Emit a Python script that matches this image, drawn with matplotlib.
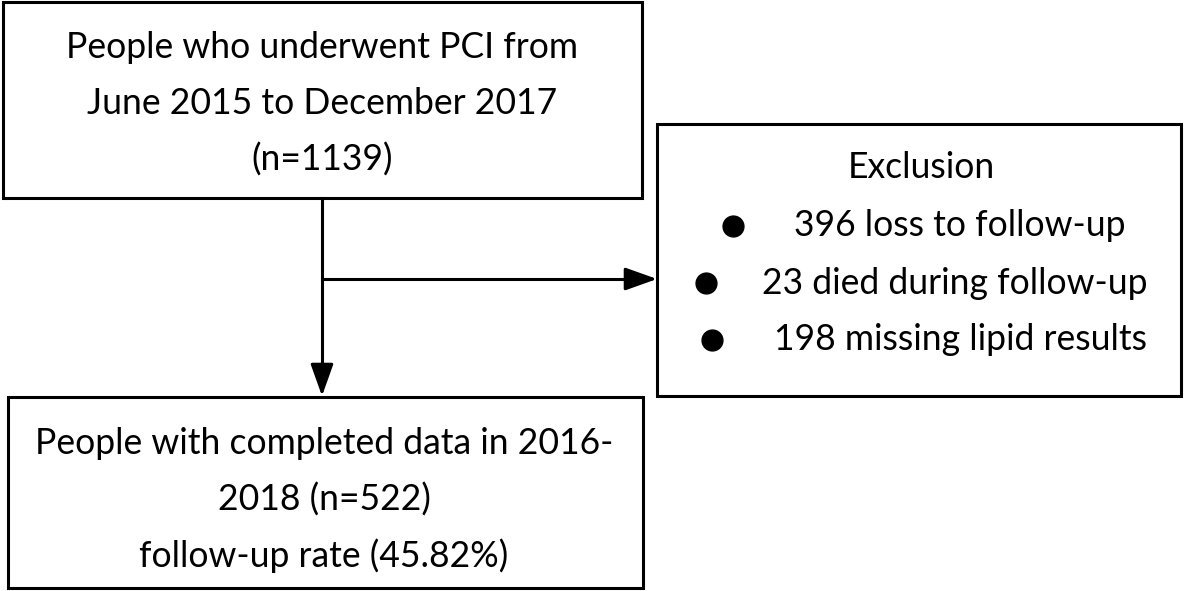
import matplotlib
matplotlib.use("Agg")
import matplotlib.pyplot as plt
from matplotlib.patches import Rectangle, FancyArrowPatch

plt.rcParams['font.family'] = ['Lato', 'DejaVu Sans']

# box texts
top_lines = ["People who underwent PCI from", "June 2015 to December 2017", "(n=1139)"]
excl_title = "Exclusion"
excl_items = ["396 loss to follow-up", "23 died during follow-up", "198 missing lipid results"]
bottom_lines = ["People with completed data in 2016-", "2018 (n=522)", "follow-up rate (45.82%)"]

W, H = 1184, 591
fig = plt.figure(figsize=(W / 100, H / 100), dpi=100)
ax = fig.add_axes([0, 0, 1, 1])
ax.set_xlim(0, W)
ax.set_ylim(H, 0)
ax.axis("off")

LW = 2.2
FS = 25.6

def box(x0, y0, x1, y1):
    ax.add_patch(Rectangle((x0, y0), x1 - x0, y1 - y0, fill=False,
                           edgecolor="black", linewidth=LW))

# boxes (pixel layout)
box(3, 2, 642, 198)
box(657, 124, 1181, 396)
box(8, 397, 643, 588)

for i, s in enumerate(top_lines):
    ax.text(322, 48 + i * 56, s, ha="center", va="center", fontsize=FS)

ax.text(921, 168, excl_title, ha="center", va="center", fontsize=FS)
bullet_x = [733, 706, 712]
text_x = [960, 955, 960]
for i, s in enumerate(excl_items):
    y = 226 + i * 57
    ax.plot(bullet_x[i], y, "o", color="black", markersize=15)
    ax.text(text_x[i], y, s, ha="center", va="center", fontsize=FS)

for i, s in enumerate(bottom_lines):
    ax.text(324, 444 + i * 56, s, ha="center", va="center", fontsize=FS)

# arrows
ax.plot([322, 322], [198, 375], color="black", linewidth=LW)
ax.add_patch(FancyArrowPatch((322, 365), (322, 396), arrowstyle="-|>,head_length=1.4,head_width=0.5",
                             mutation_scale=14, color="black", linewidth=LW, shrinkA=0, shrinkB=0))
ax.plot([322, 640], [279, 279], color="black", linewidth=LW)
ax.add_patch(FancyArrowPatch((625, 279), (657, 279), arrowstyle="-|>,head_length=1.4,head_width=0.5",
                             mutation_scale=14, color="black", linewidth=LW, shrinkA=0, shrinkB=0))

fig.savefig("out.png", dpi=100)
